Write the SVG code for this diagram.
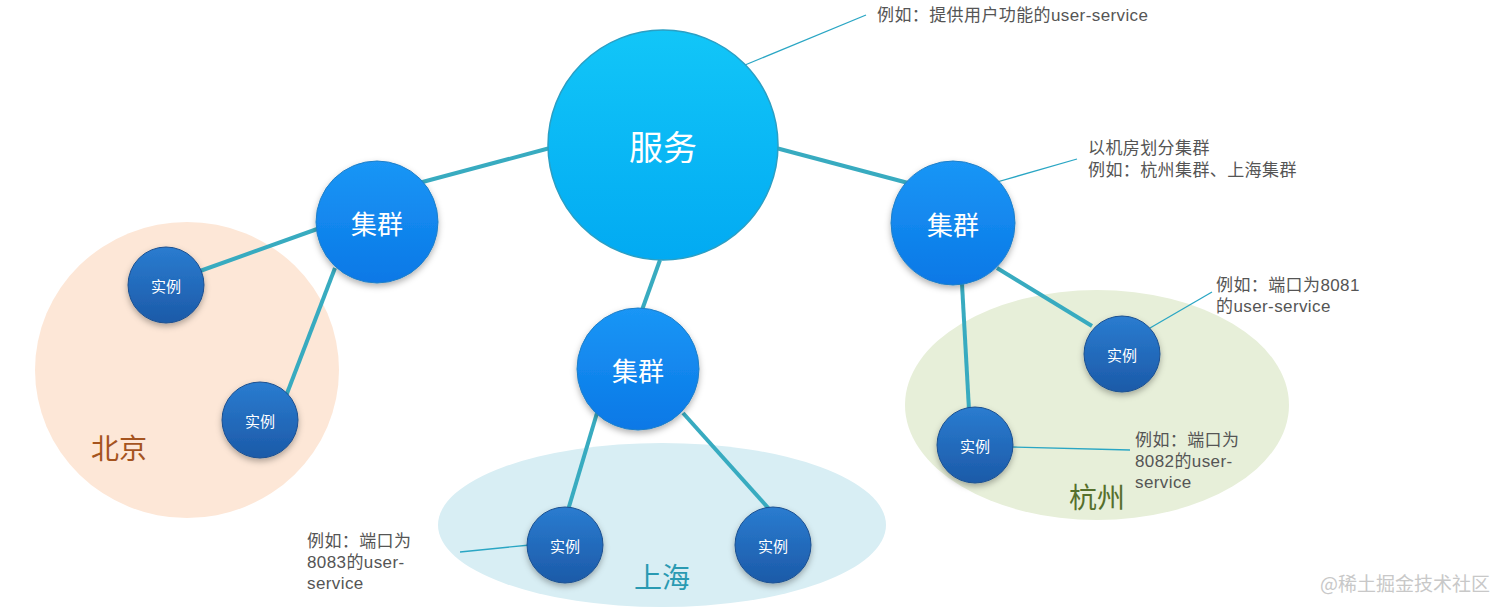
<svg xmlns="http://www.w3.org/2000/svg" width="1512" height="614" viewBox="0 0 1512 614">
<defs>
<linearGradient id="gSvc" x1="0" y1="0" x2="0" y2="1"><stop offset="0" stop-color="#12c6f8"/><stop offset="1" stop-color="#02aaf2"/></linearGradient>
<linearGradient id="gClu" x1="0" y1="0" x2="0" y2="1"><stop offset="0" stop-color="#1a96f6"/><stop offset="1" stop-color="#0a78e6"/></linearGradient>
<linearGradient id="gIns" x1="0" y1="0" x2="0" y2="1"><stop offset="0" stop-color="#2a7cd0"/><stop offset="1" stop-color="#1c5aa8"/></linearGradient>
<filter id="sh" x="-30%" y="-30%" width="160%" height="160%"><feDropShadow dx="0" dy="3" stdDeviation="3" flood-color="#000" flood-opacity="0.3"/></filter>
<style>
.conn{stroke:#38abc0;stroke-width:4;fill:none}
.note{stroke:#2aa6c4;stroke-width:1.3;fill:none}
.svc{fill:url(#gSvc);stroke:#2b9fc4;stroke-width:1.5}
.clu{fill:url(#gClu);stroke:#1f7fc8;stroke-width:1;filter:url(#sh)}
.ins{fill:url(#gIns);stroke:#1a4f90;stroke-width:1;filter:url(#sh)}
.t{font-family:"Noto Sans CJK SC","Liberation Sans",sans-serif;fill:#fff;text-anchor:middle;dominant-baseline:central}
.a{font-family:"Liberation Sans","Noto Sans CJK SC",sans-serif;font-size:17px;letter-spacing:0.4px;fill:#555}
.r{font-family:"Noto Sans CJK SC",sans-serif;font-size:28px;text-anchor:middle;dominant-baseline:central}
</style>
</defs>
<g id="regions">
<ellipse cx="187" cy="370" rx="152" ry="148" fill="#fde7d7"/>
<ellipse cx="662" cy="525" rx="224" ry="82" fill="#d8eef4"/>
<ellipse cx="1097" cy="405" rx="192" ry="115" fill="#e7efd9"/>
<text class="r" x="119" y="447" fill="#a5541f">北京</text>
<text class="r" x="662" y="576" fill="#2a9ab2">上海</text>
<text class="r" x="1097" y="496" fill="#56702c">杭州</text>
</g>
<g id="connectors">
<line class="conn" x1="550" y1="148" x2="415" y2="184"/>
<line class="conn" x1="776" y1="148" x2="912" y2="184"/>
<line class="conn" x1="660" y1="260" x2="642" y2="310"/>
<line class="conn" x1="320" y1="228" x2="200" y2="271"/>
<line class="conn" x1="335" y1="268" x2="286" y2="396"/>
<line class="conn" x1="597" y1="413" x2="568" y2="510"/>
<line class="conn" x1="683" y1="413" x2="770" y2="510"/>
<line class="conn" x1="997" y1="268" x2="1092" y2="326"/>
<line class="conn" x1="962" y1="284" x2="969" y2="410"/>
<line class="note" x1="745" y1="65" x2="866" y2="15"/>
<line class="note" x1="997" y1="182" x2="1077" y2="159"/>
<line class="note" x1="1150" y1="328" x2="1212" y2="292"/>
<line class="note" x1="1012" y1="447" x2="1130" y2="450"/>
<line class="note" x1="460" y1="552" x2="530" y2="545"/>
</g>
<g id="svc"><circle class="svc" cx="663" cy="145" r="115"/><text class="t" x="663" y="145" font-size="34">服务</text></g>
<g id="clu-bj"><circle class="clu" cx="377" cy="222" r="61"/><text class="t" x="377" y="222" font-size="26">集群</text></g>
<g id="clu-sh"><circle class="clu" cx="638" cy="369" r="61"/><text class="t" x="638" y="369" font-size="26">集群</text></g>
<g id="clu-hz"><circle class="clu" cx="953" cy="223" r="62"/><text class="t" x="953" y="223" font-size="26">集群</text></g>
<g id="ins-bj1"><circle class="ins" cx="166" cy="285" r="38"/><text class="t" x="166" y="285" font-size="15">实例</text></g>
<g id="ins-bj2"><circle class="ins" cx="260" cy="420" r="38"/><text class="t" x="260" y="420" font-size="15">实例</text></g>
<g id="ins-sh1"><circle class="ins" cx="565" cy="545" r="38"/><text class="t" x="565" y="545" font-size="15">实例</text></g>
<g id="ins-sh2"><circle class="ins" cx="773" cy="545" r="38"/><text class="t" x="773" y="545" font-size="15">实例</text></g>
<g id="ins-hz1"><circle class="ins" cx="1122" cy="354" r="38"/><text class="t" x="1122" y="354" font-size="15">实例</text></g>
<g id="ins-hz2"><circle class="ins" cx="975" cy="445" r="38"/><text class="t" x="975" y="445" font-size="15">实例</text></g>
<g id="notes">
<text class="a" x="877" y="21">例如：提供用户功能的user-service</text>
<text class="a" x="1088" y="154">以机房划分集群</text>
<text class="a" x="1088" y="176">例如：杭州集群、上海集群</text>
<text class="a" x="1216" y="291">例如：端口为8081</text>
<text class="a" x="1216" y="312">的user-service</text>
<text class="a" x="1135" y="446">例如：端口为</text>
<text class="a" x="1135" y="467">8082的user-</text>
<text class="a" x="1135" y="488">service</text>
<text class="a" x="307" y="547">例如：端口为</text>
<text class="a" x="307" y="568">8083的user-</text>
<text class="a" x="307" y="589">service</text>
</g>
<text x="1320" y="591" font-family="Noto Sans CJK SC,sans-serif" font-size="19" fill="#c8c8c8">@稀土掘金技术社区</text>
</svg>
